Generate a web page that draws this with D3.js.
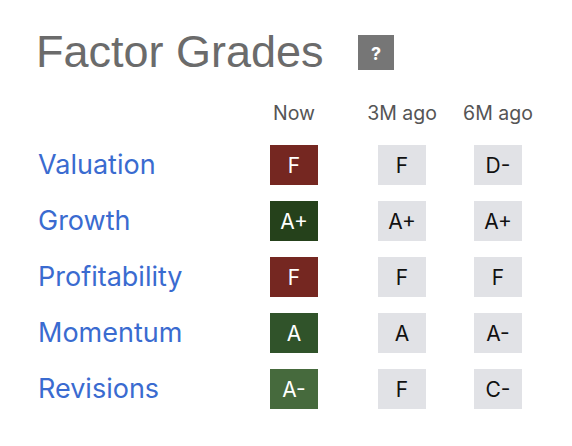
<!DOCTYPE html>
<html><head><meta charset="utf-8">
<script src="https://cdn.jsdelivr.net/npm/d3@7"></script>
<style>body{margin:0;background:#fff}</style>
</head><body>
<script>
const factors = ["Valuation", "Growth", "Profitability", "Momentum", "Revisions"];
const periods = ["Now", "3M ago", "6M ago"];
const gradesNow = ["F", "A+", "F", "A", "A-"];
const grades3M = ["F", "A+", "F", "A", "F"];
const grades6M = ["D-", "A+", "F", "A-", "C-"];
const nowColors = {"F": "#752721", "A+": "#25411b", "A": "#30532a", "A-": "#466a3d"};

const svg = d3.select("body").append("svg").attr("width", 572).attr("height", 446)
	.style("font-family", "Inter, Helvetica, Arial, sans-serif");

svg.append("text").attr("x", 36).attr("y", 67).attr("font-size", 45).attr("fill", "#6b6b6b")
	.style("font-family", "Helvetica, Arial, 'Liberation Sans', sans-serif")
	.text("Factor Grades");
svg.append("rect").attr("x", 358).attr("y", 35).attr("width", 36).attr("height", 35).attr("fill", "#767676");
svg.append("text").attr("x", 376).attr("y", 60).attr("text-anchor", "middle").attr("font-size", 18)
	.attr("font-weight", "bold").attr("fill", "#fff").text("?");

const x = d3.scaleOrdinal().domain(periods).range([294, 402, 498]);
const y = d3.scaleBand().domain(factors).range([145, 409]).paddingInner(16 / 56).paddingOuter(0);
const cols = [gradesNow, grades3M, grades6M];

svg.selectAll(".hdr").data(periods).join("text")
	.attr("x", d => x(d)).attr("y", 120).attr("text-anchor", "middle")
	.attr("font-size", 19.5).attr("fill", "#555").text(d => d);

svg.selectAll(".lbl").data(factors).join("text")
	.attr("x", 38).attr("y", d => y(d) + y.bandwidth() / 2 + 9)
	.attr("font-size", 27).attr("fill", "#3a6bd0").text(d => d);

periods.forEach((p, j) => {
	const cx = x(p);
	const g = svg.append("g");
	g.selectAll("rect").data(factors).join("rect")
		.attr("x", cx - 24).attr("y", d => y(d)).attr("width", 48).attr("height", y.bandwidth())
		.attr("fill", (d, i) => j === 0 ? nowColors[cols[j][i]] : "#e1e2e6");
	g.selectAll("text").data(factors).join("text")
		.attr("x", cx).attr("y", d => y(d) + y.bandwidth() / 2 + 8).attr("text-anchor", "middle")
		.attr("font-size", 21).attr("fill", j === 0 ? "#fff" : "#111")
		.text((d, i) => cols[j][i]);
});
</script>
</body></html>
